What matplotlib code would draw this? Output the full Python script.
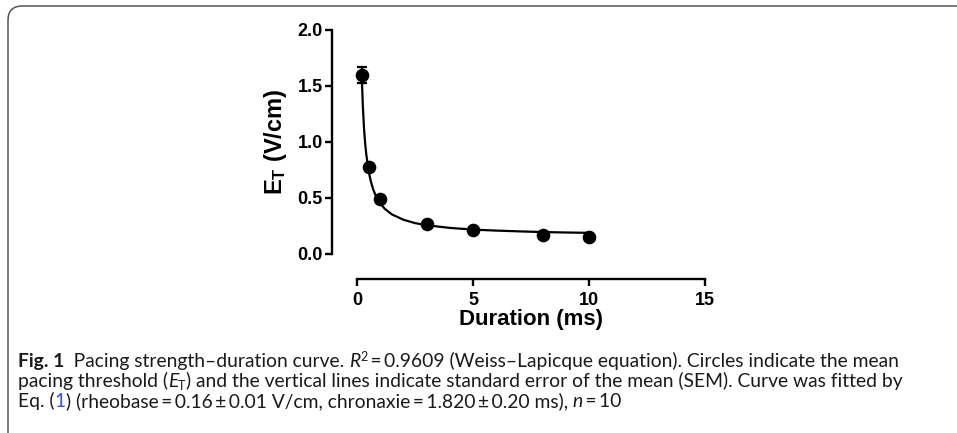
import numpy as np
import matplotlib
matplotlib.use("Agg")
import matplotlib.pyplot as plt
from matplotlib.patches import FancyBboxPatch

# ── Data ───────────────────────────────────────────────────────────────────
duration_ms = [0.2, 0.5, 1.0, 3.0, 5.0, 8.0, 10.0]
threshold   = [1.60, 0.78, 0.49, 0.27, 0.21, 0.17, 0.15]
sem         = [0.07, 0.0, 0.0, 0.0, 0.0, 0.0, 0.0]   # others hidden by symbols

# fitted Weiss–Lapicque curve
fit_x = [0.2, 0.25, 0.3, 0.35, 0.4, 0.5, 0.6, 0.7, 0.8, 1.0, 1.2, 1.5,
         2.0, 2.5, 3.0, 4.0, 5.0, 6.0, 7.0, 8.0, 9.0, 10.0]
fit_y = [1.62, 1.33, 1.13, 0.99, 0.89, 0.74, 0.645, 0.576, 0.524, 0.451,
         0.403, 0.354, 0.306, 0.276, 0.257, 0.233, 0.218, 0.209, 0.202,
         0.196, 0.192, 0.189]

x_ticks = [0, 5, 10, 15]
y_ticks = [0.0, 0.5, 1.0, 1.5, 2.0]

W, H = 957, 433

plt.rcParams["font.family"] = ["Liberation Sans", "DejaVu Sans"]
plt.rcParams["mathtext.fontset"] = "custom"
plt.rcParams["mathtext.rm"] = "Liberation Sans"
plt.rcParams["mathtext.bf"] = "Liberation Sans:bold"
plt.rcParams["mathtext.it"] = "Liberation Sans:italic"

fig = plt.figure(figsize=(W / 100, H / 100), dpi=100)

# ── Rounded frame around the figure + caption ──────────────────────────────
frame = FancyBboxPatch((8 / W, -20 / H), 1.2, (H - 6 + 20) / H,
                       boxstyle="round,pad=0,rounding_size=0.015",
                       transform=fig.transFigure, fill=False,
                       edgecolor="#555555", linewidth=1.1,
                       mutation_aspect=W / H)
fig.patches.append(frame)

# ── Plot area (Prism-like detached axes) ───────────────────────────────────
px = lambda v: v / W
py = lambda v: 1 - v / H
ax = fig.add_axes([px(357), py(254), px(705) - px(357), py(30) - py(254)])

ax.errorbar(duration_ms, threshold, yerr=sem, fmt="o", color="black",
            markersize=8.8, capsize=3.6, capthick=1.6, elinewidth=1.6,
            clip_on=False, zorder=3)
ax.plot(fit_x, fit_y, color="black", linewidth=1.6, zorder=2)

ax.set_xlim(0, 15)
ax.set_ylim(0, 2.0)
ax.set_xticks(x_ticks)
ax.set_yticks(y_ticks)
ax.set_xticklabels([str(t) for t in x_ticks])
ax.set_yticklabels([f"{t:.1f}" for t in y_ticks])

for side in ("top", "right"):
    ax.spines[side].set_visible(False)
for side in ("left", "bottom"):
    ax.spines[side].set_linewidth(1.7)
    ax.spines[side].set_position(("outward", 18))

ax.tick_params(axis="both", width=1.7, length=5, labelsize=13)
ax.tick_params(axis="x", pad=4.5)
ax.tick_params(axis="y", pad=1.5)
for lbl in ax.get_xticklabels() + ax.get_yticklabels():
    lbl.set_fontweight("bold")

ax.set_xlabel("Duration (ms)", fontsize=16, fontweight="bold", labelpad=0)
ax.set_ylabel(r"$\mathbf{E_T}$ (V/cm)", fontsize=17, fontweight="bold",
              labelpad=6.5)

# ── Caption, built from styled pieces ──────────────────────────────────────
CAP_FONT = ["Lato", "DejaVu Sans"]
CAP_SIZE = 13.9
CAP_X = 18 / W
INK = "#1a1a1a"
baselines = [367, 387, 407]

lines = [
    [("Fig. 1", "bold", "normal", INK, 0, CAP_SIZE),
     ("\u2002Pacing strength\u2013duration curve. ", "normal", "normal", INK, 0, CAP_SIZE),
     ("R", "normal", "italic", INK, 0, CAP_SIZE),
     ("2", "normal", "normal", INK, 4.5, CAP_SIZE * 0.65),
     ("\u2009=\u20090.9609 (Weiss\u2013Lapicque equation). Circles indicate the mean",
      "normal", "normal", INK, 0, CAP_SIZE)],
    [("pacing threshold (", "normal", "normal", INK, 0, CAP_SIZE),
     ("E", "normal", "italic", INK, 0, CAP_SIZE),
     ("T", "normal", "normal", INK, -2.5, CAP_SIZE * 0.65),
     (") and the vertical lines indicate standard error of the mean (SEM). Curve was fitted by",
      "normal", "normal", INK, 0, CAP_SIZE)],
    [("Eq. (", "normal", "normal", INK, 0, CAP_SIZE),
     ("1", "normal", "normal", "#3355cc", 0, CAP_SIZE),
     (") (rheobase\u2009=\u20090.16\u2009\u00b1\u20090.01 V/cm, chronaxie\u2009=\u20091.820\u2009\u00b1\u20090.20 ms), ",
      "normal", "normal", INK, 0, CAP_SIZE),
     ("n", "normal", "italic", INK, 0, CAP_SIZE),
     ("\u2009=\u200910", "normal", "normal", INK, 0, CAP_SIZE)],
]

for base, pieces in zip(baselines, lines):
    yb = 1 - base / H
    last = None
    for text, weight, style, color, dy, size in pieces:
        kw = dict(fontsize=size, fontweight=weight, fontstyle=style,
                  color=color, family=CAP_FONT, va="baseline", ha="left")
        if last is None:
            last = fig.text(CAP_X, yb, text, **kw)
        else:
            last = ax.annotate(text, xy=(1, yb),
                               xycoords=(last, fig.transFigure),
                               xytext=(0, dy), textcoords="offset points",
                               annotation_clip=False, **kw)

fig.savefig("out.png", dpi=100)
